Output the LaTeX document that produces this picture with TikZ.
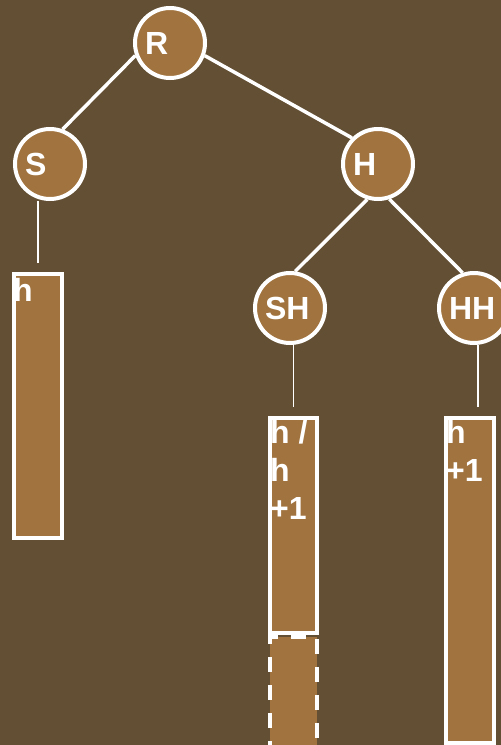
\documentclass[tikz,border=0pt]{standalone}
\usepackage{fontspec}
\setmainfont{Liberation Sans}
\usepackage{tikz}

\definecolor{bark}{RGB}{99,79,51}
\definecolor{clay}{RGB}{161,115,62}

\begin{document}
\begin{tikzpicture}[x=1pt, y=-1pt,
  vertex/.style={draw=white, fill=clay, circle, line width=4pt, minimum size=70pt, inner sep=0pt, text width=50pt, align=left, text=white, font=\fontsize{32}{38}\selectfont\bfseries},
  bar/.style={draw=white, fill=clay, line width=4pt, anchor=north, inner sep=0pt},
  tag/.style={anchor=north west, inner sep=0pt, align=left, text=white, font=\fontsize{32}{38}\selectfont\bfseries},
  edge/.style={white, line width=3.5pt},
  stem/.style={white, line width=1.5pt}]
\clip (0, 0) rectangle (501, 745);
\fill [bark] (0, 0) rectangle (501, 745);

% tree
\node [vertex] (R) at (170, 43) {R};
\node [vertex] (S) at (50, 164) {S};
\node [vertex] (H) at (378, 164) {H};
\node [vertex] (SH) at (290, 308) {SH};
\node [vertex] (HH) at (474, 308) {HH};

\draw [edge] (R.200) -- (S.70);
\draw [edge] (R.340) -- (H.135);
\draw [edge] (H.253) -- (SH.82);
\draw [edge] (H.288) -- (HH.108);

% height bars
\node [bar, minimum width=48pt, minimum height=264pt] (bS) at (38, 272) {};
\node [bar, minimum width=47pt, minimum height=215pt] (bSH) at (293.5, 416) {};
\node [bar, dash pattern=on 15pt off 13pt, minimum width=47pt, minimum height=110pt] (bSHx) at (bSH.south) {};
\node [bar, minimum width=48pt, minimum height=325pt] (bHH) at (470, 416) {};

\node [tag] (tS) at (13, 278) {h};
\node [tag] (tSH) at (270, 420) {h /\\h\\+1};
\node [tag] (tHH) at (446, 420) {h\\+1};

\coordinate (cS) at ([yshift=9pt]bS.north);
\coordinate (cSH) at ([yshift=9pt]bSH.north);
\coordinate (cHH) at ([xshift=8pt, yshift=9pt]bHH.north);
\draw [stem] (cS) -- (cS |- S.south);
\draw [stem] (cSH) -- (cSH |- SH.south);
\draw [stem] (cHH) -- (cHH |- HH.south);
\end{tikzpicture}
\end{document}
